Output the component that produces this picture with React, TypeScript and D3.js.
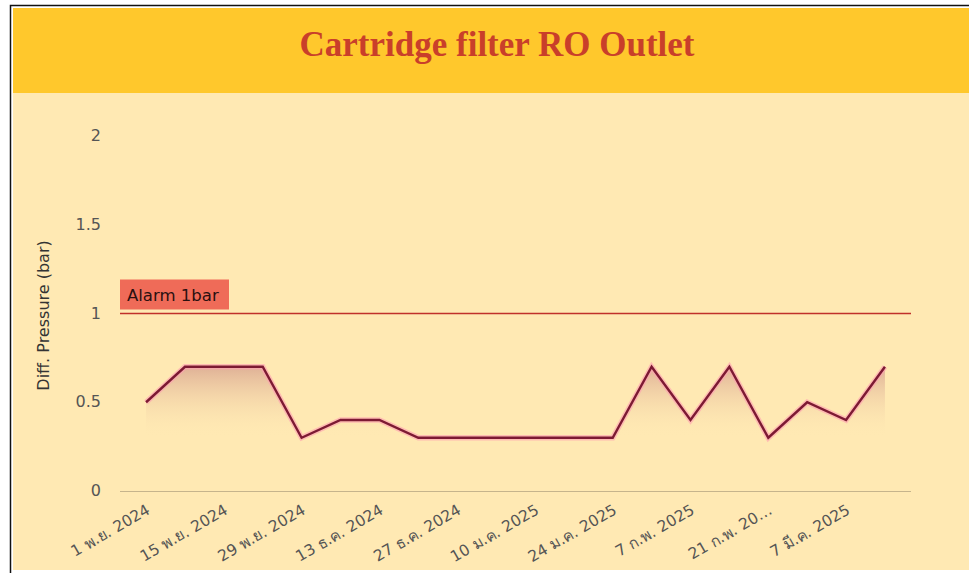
import { useEffect, useRef } from "react";
import * as d3 from "d3";

// weekly readings, 1 Nov 2024 .. 14 Mar 2025
const dates = [
  "1 พ.ย. 2024", "8 พ.ย. 2024", "15 พ.ย. 2024", "22 พ.ย. 2024", "29 พ.ย. 2024",
  "6 ธ.ค. 2024", "13 ธ.ค. 2024", "20 ธ.ค. 2024", "27 ธ.ค. 2024", "3 ม.ค. 2025",
  "10 ม.ค. 2025", "17 ม.ค. 2025", "24 ม.ค. 2025", "31 ม.ค. 2025", "7 ก.พ. 2025",
  "14 ก.พ. 2025", "21 ก.พ. 2025", "28 ก.พ. 2025", "7 มี.ค. 2025", "14 มี.ค. 2025",
];
const pressure = [
  0.5, 0.7, 0.7, 0.7, 0.3, 0.4, 0.4, 0.3, 0.3, 0.3,
  0.3, 0.3, 0.3, 0.7, 0.4, 0.7, 0.3, 0.5, 0.4, 0.7,
];
// only every other date gets a label, one is cut short
const tickLabels: Record<string, string> = {
  "21 ก.พ. 2025": "21 ก.พ. 20…",
};
const yTicks = [0, 0.5, 1, 1.5, 2];
const alarmValue = 1;
const alarmLabel = "Alarm 1bar";
const title = "Cartridge filter RO Outlet";
const yTitle = "Diff. Pressure (bar)";

const SANS = "'DejaVu Sans', Verdana, sans-serif";

export default function App() {
  const ref = useRef<SVGSVGElement>(null);

  useEffect(() => {
    if (!ref.current) return;
    const svg = d3.select(ref.current);
    svg.selectAll("*").remove();

    const W = 969, H = 573;
    const left = 120, right = 911, top = 136, bottom = 491;

    // card
    svg.append("rect").attr("width", W).attr("height", H).attr("fill", "#ffffff");
    svg.append("rect").attr("x", 10.5).attr("y", 5.5).attr("width", W).attr("height", H)
      .attr("fill", "none").attr("stroke", "#111").attr("stroke-width", 1.5);
    svg.append("rect").attr("x", 13).attr("y", 8).attr("width", W - 13).attr("height", H - 11)
      .attr("fill", "#ffe9b3");
    svg.append("rect").attr("x", 13).attr("y", 8).attr("width", W - 13).attr("height", 85)
      .attr("fill", "#ffc82c");
    svg.append("text").attr("x", 497).attr("y", 56)
      .attr("text-anchor", "middle")
      .attr("font-family", "'Liberation Serif', 'DejaVu Serif', serif")
      .attr("font-weight", "bold").attr("font-size", 35)
      .attr("fill", "#c93f2a").text(title);

    const x = d3.scalePoint<string>().domain(dates).range([left, right]).padding(0.67);
    const y = d3.scaleLinear().domain([0, 2]).range([bottom, top]);

    const defs = svg.append("defs");
    const grad = defs.append("linearGradient").attr("id", "areaFade")
      .attr("gradientUnits", "userSpaceOnUse")
      .attr("x1", 0).attr("x2", 0).attr("y1", y(0.72)).attr("y2", y(0.3));
    grad.append("stop").attr("offset", 0).attr("stop-color", "#d8a490").attr("stop-opacity", 0.9);
    grad.append("stop").attr("offset", 1).attr("stop-color", "#ffe9b3").attr("stop-opacity", 0);

    const rows = dates.map((d, i) => ({ d, v: pressure[i] }));

    // y ticks
    svg.append("g").selectAll("text").data(yTicks).join("text")
      .attr("x", 101).attr("y", (d) => y(d) + 5)
      .attr("text-anchor", "end")
      .attr("font-family", SANS)
      .attr("font-size", 16).attr("fill", "#555")
      .text((d) => String(d));

    svg.append("text")
      .attr("transform", `translate(49,${(top + bottom) / 2 + 2}) rotate(-90)`)
      .attr("text-anchor", "middle")
      .attr("font-family", SANS)
      .attr("font-size", 16).attr("fill", "#333")
      .text(yTitle);

    // baseline
    svg.append("line").attr("x1", left).attr("x2", right).attr("y1", y(0) + 0.5).attr("y2", y(0) + 0.5)
      .attr("stroke", "#c6b48c").attr("stroke-width", 1.2);

    // area + line
    const area = d3.area<{ d: string; v: number }>()
      .x((r) => x(r.d)!).y0(y(0)).y1((r) => y(r.v));
    svg.append("path").datum(rows).attr("d", area).attr("fill", "url(#areaFade)");

    const line = d3.line<{ d: string; v: number }>().x((r) => x(r.d)!).y((r) => y(r.v));
    svg.append("path").datum(rows).attr("d", line).attr("fill", "none")
      .attr("stroke", "#ff9fb0").attr("stroke-width", 5.5).attr("stroke-opacity", 0.6);
    svg.append("path").datum(rows).attr("d", line).attr("fill", "none")
      .attr("stroke", "#7d1a33").attr("stroke-width", 2.4);

    // alarm
    svg.append("line").attr("x1", left).attr("x2", right).attr("y1", y(alarmValue)).attr("y2", y(alarmValue))
      .attr("stroke", "#c0302a").attr("stroke-width", 1.3);
    svg.append("rect").attr("x", left).attr("y", y(alarmValue) - 34).attr("width", 109).attr("height", 30)
      .attr("fill", "#ef6b58");
    svg.append("text").attr("x", left + 7).attr("y", y(alarmValue) - 13)
      .attr("font-family", SANS)
      .attr("font-size", 16.5).attr("fill", "#2a1010").text(alarmLabel);

    // x tick labels
    svg.append("g").selectAll("text").data(dates.filter((_, i) => i % 2 === 0)).join("text")
      .attr("transform", (d) => `translate(${x(d)! + 5},${bottom + 22}) rotate(-30)`)
      .attr("text-anchor", "end")
      .attr("font-family", SANS)
      .attr("font-size", 15.5).attr("fill", "#555")
      .text((d) => tickLabels[d] ?? d);
  }, []);

  return (
    <svg ref={ref} width={969} height={573}
      style={{ position: "fixed", left: 0, top: 0, display: "block" }} />
  );
}
